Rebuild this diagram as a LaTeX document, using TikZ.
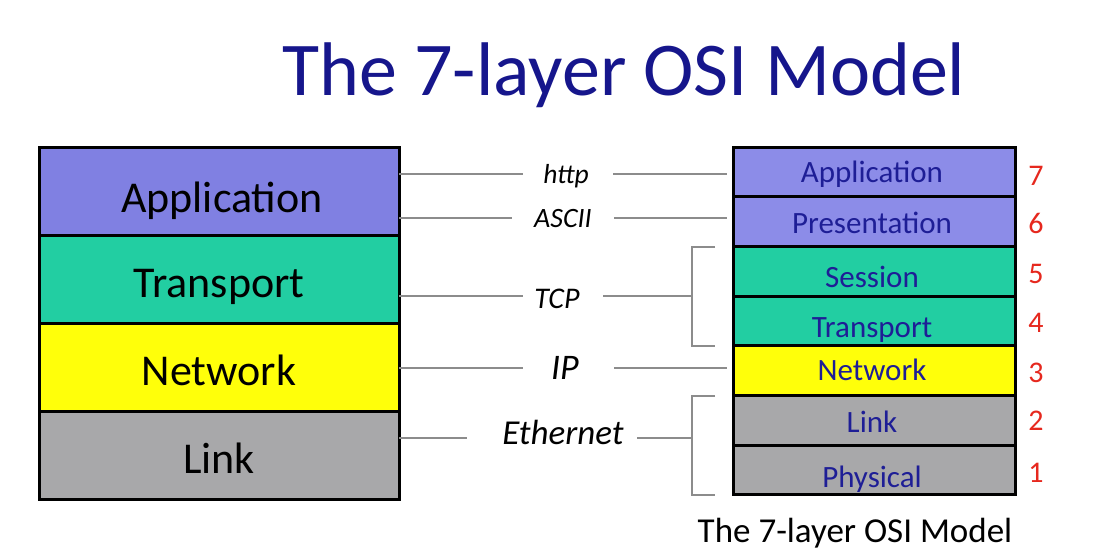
\documentclass[tikz,border=0pt]{standalone}
\usepackage{fontspec}
\setmainfont{Carlito}
\definecolor{navy}{RGB}{22,22,140}
\definecolor{txtblue}{RGB}{30,30,150}
\definecolor{purpL}{RGB}{128,128,226}
\definecolor{purpR}{RGB}{140,140,232}
\definecolor{tealc}{RGB}{34,206,162}
\definecolor{yel}{RGB}{255,255,10}
\definecolor{gry}{RGB}{168,168,170}
\definecolor{conncol}{RGB}{140,140,140}
\definecolor{numred}{RGB}{230,40,30}
\begin{document}
\begin{tikzpicture}[x=1pt,y=-1pt,
  lbox/.style={draw=black, line width=3pt, minimum width=360pt, minimum height=88pt, inner sep=0pt, outer sep=0pt},
  rbox/.style={draw=black, line width=3pt, minimum width=282pt, minimum height=49.7pt, inner sep=0pt, outer sep=0pt},
  ltext/.style={anchor=base, inner sep=0pt, font=\fontsize{44}{52}\selectfont, text=black},
  rtext/.style={anchor=base, inner sep=0pt, font=\fontsize{31}{37}\selectfont, text=txtblue},
  numtext/.style={anchor=base, inner sep=0pt, font=\fontsize{30}{36}\selectfont, text=numred},
  proto/.style={anchor=base, inner sep=0pt, font=\itshape, text=black},
  conn/.style={draw=conncol, line width=2.5pt}
]
\useasboundingbox[fill=white] (0,0) rectangle (1097,557);

% title
\node[anchor=base, inner sep=0pt, text=navy, font=\fontsize{76}{90}\selectfont] (title) at (624,95) {The 7-layer OSI Model};

% left stack
\node[lbox, fill=purpL] (lapp) at (219,191) {};
\node[lbox, fill=tealc] (ltra) at (219,279) {};
\node[lbox, fill=yel]   (lnet) at (219,367) {};
\node[lbox, fill=gry]   (llnk) at (219,455) {};
\node[ltext] (tlapp) at (222,212) {Application};
\node[ltext] (tltra) at (219,297) {Transport};
\node[ltext] (tlnet) at (219,385) {Network};
\node[ltext] (tllnk) at (219,473) {Link};

% right stack
\node[rbox, fill=purpR] (rapp) at (874,171.85) {};
\node[rbox, fill=purpR] (rpre) at (874,221.55) {};
\node[rbox, fill=tealc] (rses) at (874,271.25) {};
\node[rbox, fill=tealc] (rtra) at (874,320.95) {};
\node[rbox, fill=yel]   (rnet) at (874,370.65) {};
\node[rbox, fill=gry]   (rlnk) at (874,420.35) {};
\node[rbox, fill=gry]   (rphy) at (874,470.05) {};
\node[rtext] (trapp) at (872,182) {Application};
\node[rtext] (trpre) at (872,233) {Presentation};
\node[rtext] (trses) at (872,287) {Session};
\node[rtext] (trtra) at (872,337) {Transport};
\node[rtext] (trnet) at (872,380) {Network};
\node[rtext] (trlnk) at (872,432) {Link};
\node[rtext] (trphy) at (872,487) {Physical};

% layer numbers
\node[numtext] (n7) at (1036,185) {7};
\node[numtext] (n6) at (1036,233) {6};
\node[numtext] (n5) at (1036,283) {5};
\node[numtext] (n4) at (1036,332) {4};
\node[numtext] (n3) at (1036,382) {3};
\node[numtext] (n2) at (1036,430) {2};
\node[numtext] (n1) at (1036,482) {1};

% caption
\node[anchor=base, inner sep=0pt, font=\fontsize{35}{41}\selectfont, text=black] (caption) at (855,542) {The 7-layer OSI Model};

% protocol labels
\node[proto, font=\itshape\fontsize{27.5}{32}\selectfont] (http) at (566,183) {http};
\node[proto, font=\itshape\fontsize{28}{33}\selectfont] (ascii) at (563,227) {ASCII};
\node[proto, font=\itshape\fontsize{30}{36}\selectfont] (tcp) at (557,308) {TCP};
\node[proto, font=\itshape\fontsize{36}{42}\selectfont] (ip) at (565,379) {IP};
\node[proto, font=\itshape\fontsize{35}{41}\selectfont] (eth) at (563,444) {Ethernet};

% connector end coordinates
\coordinate (httpL) at (523,174);  \coordinate (httpR) at (613,174);  \coordinate (httpE) at (727,174);
\coordinate (asciiL) at (512,218); \coordinate (asciiR) at (614,218); \coordinate (asciiE) at (727,218);
\coordinate (tcpL) at (523,296);   \coordinate (tcpR) at (603,296);
\coordinate (ipL) at (523,368);    \coordinate (ipR) at (614,368);    \coordinate (ipE) at (727,368);
\coordinate (ethL) at (467,438);   \coordinate (ethR) at (637,438);
\coordinate (tcpB) at (692,296);   \coordinate (ethB) at (692,438);
\coordinate (tcpTop) at (715,247); \coordinate (tcpBot) at (715,346);
\coordinate (ethTop) at (715,396); \coordinate (ethBot) at (715,495);

% connectors
\draw[conn] (lapp.east |- httpL) -- (httpL);
\draw[conn] (httpR) -- (httpE);
\draw[conn] (lapp.east |- asciiL) -- (asciiL);
\draw[conn] (asciiR) -- (asciiE);
\draw[conn] (ltra.east |- tcpL) -- (tcpL);
\draw[conn] (tcpR) -- (tcpB);
\draw[conn] (tcpTop) -- (tcpB |- tcpTop) -- (tcpB |- tcpBot) -- (tcpBot);
\draw[conn] (lnet.east |- ipL) -- (ipL);
\draw[conn] (ipR) -- (ipE);
\draw[conn] (llnk.east |- ethL) -- (ethL);
\draw[conn] (ethR) -- (ethB);
\draw[conn] (ethTop) -- (ethB |- ethTop) -- (ethB |- ethBot) -- (ethBot);
\end{tikzpicture}
\end{document}
